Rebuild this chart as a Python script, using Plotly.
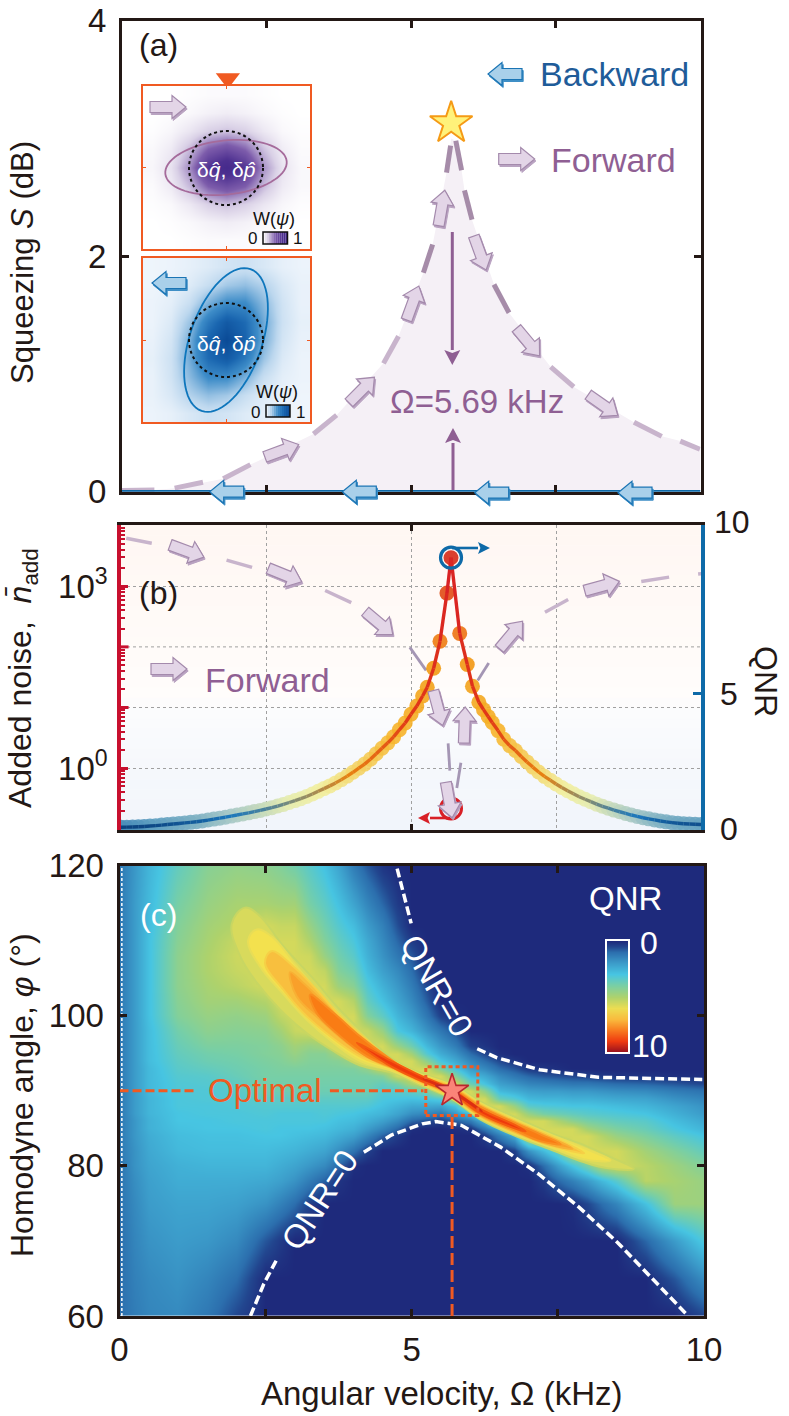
import math
import plotly.graph_objects as go

W, H = 789, 1416
FONT = "Liberation Sans"
INK = "#231815"
ORANGE = "#f05a22"
PURPLE = "#8f5f93"
BLUE = "#0e6aa8"
RED = "#c8102e"

# ---------- panel (a) data ----------
area_x = [0, .56, .91, 1.4, 1.75, 2.22, 3.31, 3.71, 4.52, 4.78, 5.21, 5.37, 5.61, 5.69, 5.77, 5.87, 5.92, 6.05, 6.43, 6.69, 7.41, 7.81, 8.85, 9.33, 9.65, 10]
area_s = [0, .014, .03, .08, .11, .23, .49, .65, 1.09, 1.32, 1.86, 2.1, 2.71, 3.0, 2.98, 2.73, 2.56, 2.31, 1.76, 1.52, 1.06, .89, .59, .47, .43, .36]
dash_hi_x = [5.68, 5.61, None, 5.37, 5.21, None, 5.77, 5.87, None, 5.92, 6.05, None, 6.43, 6.69]
dash_hi_s = [2.94, 2.71, None, 2.10, 1.86, None, 2.98, 2.73, None, 2.56, 2.31, None, 1.76, 1.52]
dash_lo_x = [4.78, 4.52, None, 3.71, 3.31, None, 2.22, 1.75, None, 1.40, .91, None, .56, 0, None, 7.41, 7.81, None, 8.85, 9.33, None, 9.65, 9.99]
dash_lo_s = [1.32, 1.09, None, .65, .49, None, .23, .11, None, .08, .03, None, .014, .01, None, 1.06, .89, None, .59, .47, None, .43, .36]
baseline_x = [0, 10]
baseline_s = [0, 0]
omega_opt = 5.69

# ---------- panel (b) data ----------
noise_out_x = [.09, .53, None, 1.82, 2.26, None, 3.52, 3.97, None, 7.31, 7.71, None, 8.97, 9.45, None, 9.95, 10.07]
noise_out_n = [6166, 5129, None, 2692, 2042, None, 851, 537, None, 372, 603, None, 1202, 1413, None, 1585, 1622]
noise_mid_x = [4.98, 5.26, None, 5.64, 5.67, None, 5.79, 5.86, None, 6.15, 6.34]
noise_mid_n = [98, 41, None, 2.57, .91, None, .47, 1.23, None, 28, 54]
grid_extra_x = [0, 10, None, 0, 10]
grid_extra_n = [10, 10, None, 100, 100]
decade_tick_x = [0, .13, None, 0, .13]
decade_tick_n = [10, 10, None, 100, 100]
qnr_x = [0, .1, .2, .3, .4, .5, .6, .7, .8, .9, 1, 1.1, 1.2, 1.3, 1.4, 1.5, 1.6, 1.7, 1.8, 1.9, 2, 2.1, 2.2, 2.3, 2.4, 2.5, 2.6, 2.7, 2.8, 2.9, 3, 3.1, 3.2, 3.3, 3.4, 3.5, 3.6, 3.7, 3.8, 3.9, 4, 4.1, 4.2, 4.3, 4.4, 4.5, 4.6, 4.7, 4.8, 4.9, 5, 5.1, 5.2, 5.28, 5.39, 5.5, 5.62, 5.69,
         5.84, 5.97, 6.06, 6.17, 6.25, 6.33, 6.4, 6.5, 6.6, 6.7, 6.8, 6.9, 7, 7.1, 7.2, 7.3, 7.4, 7.5, 7.6, 7.7, 7.8, 7.9, 8, 8.1, 8.2, 8.3, 8.4, 8.5, 8.6, 8.7, 8.8, 8.9, 9, 9.1, 9.2, 9.3, 9.4, 9.5, 9.6, 9.7, 9.8, 9.9, 10]
qnr_y = [.1, .105, .11, .12, .13, .145, .16, .18, .2, .22, .24, .26, .28, .305, .33, .365, .4, .435, .47, .51, .55, .59, .63, .675, .72, .77, .82, .88, .94, 1.01, 1.08, 1.15, 1.23, 1.32, 1.42, 1.52, 1.62, 1.73, 1.85, 1.98, 2.12, 2.27, 2.42, 2.6, 2.8, 3, 3.2, 3.42, 3.68, 3.93, 4.25, 4.55, 4.92, 5.24, 5.94, 6.93, 8.7, 10,
         7.22, 6.08, 5.28, 4.69, 4.42, 4.17, 3.95, 3.65, 3.33, 3.1, 2.92, 2.7, 2.5, 2.31, 2.13, 1.97, 1.83, 1.69, 1.56, 1.44, 1.33, 1.22, 1.13, 1.04, .95, .87, .8, .73, .67, .61, .55, .5, .45, .41, .37, .33, .3, .27, .25, .23, .22, .21, .2]
qnr_ring_top = 10
qnr_ring_bottom = .79

# ---------- panel (c) data ----------
omega_grid = [0, .25, .5, 1, 1.5, 2, 2.5, 2.75, 3, 3.25, 3.5, 3.75, 4, 4.25, 4.5, 4.75, 5, 5.25, 5.5, 5.75, 6, 6.25, 6.5, 6.75, 7, 7.25, 7.5, 7.75, 8, 8.25, 8.5, 9, 9.5, 10]
phi_grid = [60, 65, 70, 75, 78, 80, 82, 84, 85, 86, 87, 88, 89, 90, 91, 92, 93, 94, 95, 96, 98, 100, 102, 104, 106, 108, 110, 112, 115, 120]
qnr_columns = [
 [1.0,1.0,1.0,1.1,1.1,1.1,1.2,1.2,1.2,1.2,1.2,1.2,1.2,1.2,1.2,1.2,1.2,1.2,1.2,1.2,1.2,1.2,1.2,1.2,1.2,1.2,1.2,1.2,1.2,1.2],
 [1.3,1.4,1.5,1.6,1.7,1.8,1.8,1.9,1.9,1.9,2.0,2.0,2.0,2.0,2.0,2.0,2.0,2.0,2.0,2.0,2.0,2.0,2.0,2.0,2.0,2.0,2.0,2.0,2.0,1.9],
 [1.5,1.6,1.8,2.0,2.1,2.2,2.3,2.4,2.5,2.5,2.6,2.6,2.6,2.7,2.7,2.7,2.7,2.8,2.8,2.8,2.8,2.9,2.9,2.9,2.9,2.9,2.9,2.8,2.7,2.6],
 [1.6,1.8,2.0,2.2,2.4,2.5,2.7,2.8,2.9,3.0,3.0,3.1,3.1,3.2,3.2,3.3,3.4,3.5,3.6,3.7,3.9,4.2,4.3,4.4,4.4,4.4,4.3,4.2,4.0,3.6],
 [1.2,1.5,1.9,2.2,2.4,2.6,2.8,2.9,3.0,3.0,3.1,3.1,3.2,3.2,3.3,3.4,3.6,3.8,3.9,4.1,4.4,4.6,4.8,4.9,5.0,5.0,4.9,4.8,4.6,4.3],
 [0.5,1.0,1.6,2.1,2.4,2.6,2.8,2.9,3.0,3.1,3.1,3.2,3.3,3.4,3.5,3.7,3.8,3.9,4.0,4.1,4.3,4.5,4.8,5.2,5.4,5.5,5.4,5.1,4.9,4.5],
 [0,0,0.7,1.8,2.3,2.6,2.8,3.0,3.1,3.1,3.2,3.3,3.5,3.8,3.9,4,4.0,4.1,4.2,4.2,4.4,4.7,5.1,5.6,6.6,6.5,6.2,5.6,4.9,4.4],
 [0,0,.3,1.4,2.1,2.4,2.7,3,3,3.1,3.1,3.3,3.5,3.8,3.9,4,4.1,4.2,4.3,4.4,4.8,5.3,5.9,7.1,7,6.5,6,5.4,4.8,4.2],
 [0,0,0,1.0,1.8,2.2,2.6,2.9,3.0,3.1,3.1,3.3,3.5,3.8,3.9,4,4.1,4.4,4.6,4.8,5.4,6.2,7,7.5,7.2,6.5,5.9,5.4,4.8,3.9],
 [0,0,0,.4,1.3,1.9,2.4,2.8,3,3.1,3.1,3.3,3.5,3.8,3.9,4,4.1,4.2,4.3,4.6,5.6,6.9,7.8,7.1,6.2,5.5,5,4.6,4,3.4],
 [0,0,0,0,.8,1.6,2.2,2.7,2.9,3.1,3.2,3.3,3.5,3.8,3.9,4,4.1,4.2,4.3,4.8,6.2,8.0,7.7,6.3,5.3,4.6,4.2,3.9,3.5,2.9],
 [0,0,0,0,.2,.9,1.7,2.4,2.7,2.9,3.1,3.3,3.5,3.8,3.9,4,4.1,4.3,4.9,5.8,8.3,7.2,5.6,4.7,4.2,3.9,3.6,3.3,2.9,2.2],
 [0,0,0,0,0,.1,1.1,2.1,2.5,2.8,3.0,3.3,3.5,3.8,3.9,4,4.1,4.8,5.8,7.6,8.6,6.4,5.1,4.3,3.8,3.4,3.1,2.8,2.2,1.3],
 [0,0,0,0,0,0,.4,1.5,2,2.5,2.8,3.2,3.5,3.8,3.9,4,4.5,5.9,8.3,8.6,5.4,4.2,3.6,3.2,2.8,2.5,2.3,2,1.5,.7],
 [0,0,0,0,0,0,0,.8,1.5,2.1,2.6,2.9,3.1,3.3,3.6,4.2,5.6,8.2,9.1,7.2,4.6,3.5,2.9,2.5,2.1,1.8,1.6,1.4,.9,.2],
 [0,0,0,0,0,0,0,.3,.9,1.6,2.2,2.6,3,3.4,4,5.6,9.2,8.8,6,4.6,3.1,2.6,2.2,1.9,1.6,1.2,.9,.6,.3,0],
 [0,0,0,0,0,0,0,0,.1,.9,1.7,2.3,2.9,3.6,5,8.5,9.5,7.2,4.8,3.8,2.6,2,1.6,1.3,1,.7,.3,0,0,0],
 [0,0,0,0,0,0,0,0,0,.6,1.5,2.3,3,4,7.6,9.7,7,4.4,3.3,2.7,1.8,1.2,.8,.5,.2,0,0,0,0,0],
 [0,0,0,0,0,0,0,0,0,.3,1.2,2.2,3.3,7,9.8,7,4.2,3,2.4,1.9,1.2,.4,0,0,0,0,0,0,0,0],
 [0,0,0,0,0,0,0,0,.1,.8,1.9,3,5.5,9.9,7.5,4.2,3,2.3,1.8,1.3,.6,.1,0,0,0,0,0,0,0,0],
 [0,0,0,0,0,0,0,0,.2,1.3,2.7,6,9.8,7,3.8,2.7,2,1.5,1,.4,0,0,0,0,0,0,0,0,0,0],
 [0,0,0,0,0,0,0,.3,1.2,2.6,5,9.5,8,4.4,3,2.3,1.6,1,.5,.2,0,0,0,0,0,0,0,0,0,0],
 [0,0,0,0,0,0,0,1.3,2.4,6.8,9.2,6,3.7,2.7,2.1,1.6,1,.5,.1,0,0,0,0,0,0,0,0,0,0,0],
 [0,0,0,0,0,0,.4,2.4,4,9.1,8,4.6,3.3,2.4,1.8,1.2,.7,.2,0,0,0,0,0,0,0,0,0,0,0,0],
 [0,0,0,0,0,.1,1.8,5.8,9,7.2,4.6,3.4,2.7,2.1,1.5,.9,.3,0,0,0,0,0,0,0,0,0,0,0,0,0],
 [0,0,0,0,.3,1,2.8,8.3,8.6,5.6,4,3.2,2.6,2,1.4,.7,.2,0,0,0,0,0,0,0,0,0,0,0,0,0],
 [0,0,0,0,.9,2,3.8,8.2,7,5,3.8,3.1,2.6,2,1.3,.6,.1,0,0,0,0,0,0,0,0,0,0,0,0,0],
 [0,0,0,.1,1.4,3,6.9,7,5.8,4.4,3.6,3,2.5,1.9,1.2,.5,0,0,0,0,0,0,0,0,0,0,0,0,0,0],
 [0,0,0,.5,2,4,6.8,5.6,4.8,4,3.4,3,2.5,1.9,1.2,.4,0,0,0,0,0,0,0,0,0,0,0,0,0,0],
 [0,0,0,1,2.7,5.2,6.4,5.1,4.4,3.8,3.3,2.9,2.4,1.8,1.1,.3,0,0,0,0,0,0,0,0,0,0,0,0,0,0],
 [0,0,0,1.5,3.4,5.6,5.6,4.6,4.1,3.6,3.2,2.8,2.3,1.7,1,.2,0,0,0,0,0,0,0,0,0,0,0,0,0,0],
 [0,0,.9,2.9,5.2,5.2,4.8,4.1,3.7,3.4,3,2.6,2.2,1.6,.9,.2,0,0,0,0,0,0,0,0,0,0,0,0,0,0],
 [0,.7,2,4.7,4.9,4.7,4.2,3.5,3.1,2.8,2.5,2.2,1.8,1.3,.7,.1,0,0,0,0,0,0,0,0,0,0,0,0,0,0],
 [.5,1.7,3.2,4.7,4.6,4.2,3.6,3,2.6,2.3,2,1.8,1.5,1.1,.5,.1,0,0,0,0,0,0,0,0,0,0,0,0,0,0],
]
# QNR iso-level outlines (upper edge left to right, lower edge back)
iso60_x = [1.92, 2.147, 2.4, 2.8, 3.32, 3.77, 4.23, 4.68, 5.08, 5.69, 6.17, 6.8, 7.37, 7.94, 8.34, 8.8, 8.34, 7.94, 7.37, 6.8, 6.17, 5.69, 5.08, 4.68, 4.11, 3.66, 3.2, 2.75, 2.35, 2.06]
iso60_phi = [112.2, 114.4, 113.3, 109.3, 104.9, 100.8, 97.3, 94.2, 92.6, 90.9, 88.6, 86.4, 84.4, 82.8, 81.4, 79.6, 79.7, 80.5, 82.2, 83.9, 86.2, 88.9, 91, 92.4, 93.4, 95.3, 97.7, 100.8, 104.4, 108]
iso65_x = [2.2, 2.35, 2.63, 3.03, 3.43, 3.89, 4.34, 4.68, 5.08, 5.69, 6.17, 6.8, 7.37, 7.94, 8.4, 7.94, 7.37, 6.8, 6.17, 5.69, 5.08, 4.68, 4.11, 3.66, 3.2, 2.8, 2.4]
iso65_phi = [110, 111.5, 110.4, 106.6, 102.9, 99.1, 95.8, 94, 92.4, 90.75, 88.4, 86.1, 84.2, 82.4, 80.7, 80.9, 82.5, 84.1, 86.4, 89, 91.2, 92.6, 94, 96.4, 99.5, 102.9, 106.6]
iso70_x = [2.49, 2.6, 2.97, 3.37, 3.77, 4.23, 4.68, 5.08, 5.69, 6.17, 6.8, 7.37, 7.8, 7.95, 7.37, 6.8, 6.17, 5.69, 5.08, 4.68, 4.11, 3.6, 3.14, 2.8]
iso70_phi = [107, 108.6, 106.6, 103.5, 100, 96.8, 93.8, 92.2, 90.6, 88.2, 85.9, 84, 82.4, 81.7, 82.7, 84.3, 86.6, 89.2, 91.3, 92.9, 94.6, 97.3, 100.4, 103.5]
iso75_x = [2.92, 3.14, 3.49, 3.94, 4.4, 4.68, 5.08, 5.69, 6.17, 6.8, 7.37, 7.75, 7.37, 6.8, 6.17, 5.69, 5.08, 4.68, 4.34, 3.89, 3.43, 3.03]
iso75_phi = [105.8, 104.4, 101.8, 98.2, 95.1, 93.7, 92.1, 90.45, 88.05, 85.75, 83.8, 82.3, 82.8, 84.45, 86.7, 89.35, 91.5, 93, 94.1, 96.4, 99.5, 102.6]
iso80_x = [3.26, 3.66, 4.11, 4.57, 5.08, 5.69, 6.17, 6.8, 7.2, 7.55, 7.2, 6.8, 6.17, 5.69, 5.08, 4.68, 4.23, 3.77, 3.37]
iso80_phi = [102.8, 100.4, 97.3, 94.6, 92, 90.3, 87.9, 85.6, 84.2, 82.9, 83.3, 84.6, 86.85, 89.5, 91.6, 93.1, 94.6, 97.3, 100.4]
iso90_x = [4.06, 4.57, 5.08, 5.69, 6.17, 6.8, 6.95, 6.8, 6.17, 5.69, 5.08, 4.57]
iso90_phi = [96.4, 94.3, 92.3, 90.15, 87.6, 85.3, 84.6, 84.9, 87, 89.65, 91.6, 93.6]
iso97_x = [5.2, 5.69, 6.2, 5.69]
iso97_phi = [91.6, 90, 87.3, 89.8]
qnr_zero_up_x = [4.75, 4.99, None, 6.12, 6.46, 7.19, 8.19, 9.97]
qnr_zero_up_phi = [119.6, 112.3, None, 95.6, 94.4, 92.8, 91.8, 91.5]
qnr_zero_lo_x = [2.24, 2.47, 2.71, None, 4.18, 4.65, 5.18, 5.41, 5.85, 6.52, 7.19, 7.86, 8.52, 9.19, 9.73]
qnr_zero_lo_phi = [60, 64.3, 67.8, None, 81.8, 84.1, 85.6, 85.9, 85.4, 82.5, 78.8, 74.5, 69.8, 64.3, 60]
edge_x = [.04, .04]
edge_phi = [60, 120]
opt_h_x = [0, 1.3, None, 3.6, 5.2]
opt_h_phi = [90, 90, None, 90, 90]
opt_v_x = [5.69, 5.69]
opt_v_phi = [86.5, 60]
box_x = [5.24, 6.13, 6.13, 5.24, 5.24]
box_phi = [86.7, 86.7, 93.2, 93.2, 86.7]
phi_opt = 90
bar_levels = [0, 1, 2, 3, 4, 5, 6, 7, 8, 9, 10]

QNR_SCALE = [[0, "#1e2a7c"], [.05, "#22468f"], [.1, "#2c6fae"], [.2, "#3c9cca"], [.3, "#47c5e2"], [.4, "#78cfa6"],
             [.5, "#aed26c"], [.6, "#ecdd52"], [.7, "#f9bb3d"], [.8, "#f87a1f"], [.9, "#ee3a10"], [1, "#96101f"]]

# ---------- inset data ----------
wigner_forward = [
 [0,0,.01,.02,.02,.02,.01,0,0],
 [0,.01,.03,.06,.08,.06,.03,.01,0],
 [.01,.04,.11,.20,.24,.20,.10,.03,.01],
 [.03,.09,.26,.50,.60,.48,.24,.08,.02],
 [.04,.13,.38,.78,.95,.76,.36,.12,.03],
 [.02,.09,.26,.50,.60,.50,.26,.09,.03],
 [.01,.03,.10,.20,.25,.20,.11,.04,.01],
 [0,.01,.03,.06,.08,.06,.03,.01,0],
 [0,0,.01,.02,.02,.02,.01,0,0],
]
wigner_backward = [
 [.02,.03,.05,.08,.12,.14,.10,.05,.03],
 [.02,.04,.08,.16,.26,.30,.22,.10,.04],
 [.03,.06,.16,.36,.52,.52,.32,.13,.04],
 [.03,.09,.28,.62,.86,.72,.38,.14,.05],
 [.04,.12,.36,.78,1.0,.78,.36,.12,.04],
 [.05,.14,.38,.72,.86,.62,.28,.09,.03],
 [.04,.13,.32,.52,.52,.36,.16,.06,.03],
 [.04,.10,.22,.30,.26,.16,.08,.04,.02],
 [.03,.05,.10,.14,.12,.08,.05,.03,.02],
]
PURPLE_SCALE = [[0, "#ffffff"], [.2, "#d9d0e6"], [.5, "#7d5cab"], [.8, "#4d3090"], [1, "#43288a"]]
BLUE_SCALE = [[0, "#f4f8fd"], [.2, "#bcd7ee"], [.5, "#3d8cc8"], [.75, "#1a66b0"], [1, "#0a4a96"]]

# ---------- helpers ----------
def fx(p): return p / W
def fy(p): return 1 - p / H
def dom_x(a, b): return [fx(a), fx(b)]
def dom_y(top, bottom): return [fy(bottom), fy(top)]

def hex_rgb(c): return tuple(int(c[i:i + 2], 16) for i in (1, 3, 5))
def mix(stops, v):
    v = max(stops[0][0], min(stops[-1][0], v))
    for (a, ca), (b, cb) in zip(stops, stops[1:]):
        if v <= b:
            t = (v - a) / (b - a)
            ra, rb = hex_rgb(ca), hex_rgb(cb)
            return "rgb(%d,%d,%d)" % tuple(ra[i] + (rb[i] - ra[i]) * t for i in range(3))
    return stops[-1][1]

shapes, annos = [], []

def txt(x, y, s, size=33, color=INK, angle=0, anchor="center", family=FONT):
    annos.append(dict(x=fx(x), y=fy(y), xref="paper", yref="paper", text=s, showarrow=False, xanchor=anchor, yanchor="middle",
                      textangle=angle, font=dict(family=family, size=size, color=color)))

def poly_path(pts):
    return "M " + " L ".join(f"{fx(a):.5f},{fy(b):.5f}" for a, b in pts) + " Z"

def block_arrow(cx, cy, deg, kind="p", L=36, hw=5.5, HW=11.5, HL=14):
    fill, edge, shade = ("#e3d5e7", "#a48aac", "#b9a2c1") if kind == "p" else ("#a9d0ea", "#1a74b4", "#3f8fc6")
    t = math.radians(deg)
    local = [(-L/2, -hw), (L/2 - HL, -hw), (L/2 - HL, -HW), (L/2, 0), (L/2 - HL, HW), (L/2 - HL, hw), (-L/2, hw)]
    pts = [(cx + u * math.cos(t) - v * math.sin(t), cy + u * math.sin(t) + v * math.cos(t)) for u, v in local]
    shapes.append(dict(type="path", xref="paper", yref="paper", path=poly_path([(a + 1.2, b + 2) for a, b in pts]),
                       fillcolor=shade, line=dict(color=shade, width=1), layer="above"))
    shapes.append(dict(type="path", xref="paper", yref="paper", path=poly_path(pts), fillcolor=fill,
                       line=dict(color=edge, width=1.2), layer="above"))

def ellipse(cx, cy, a, b, deg, color, width=1.8):
    t = math.radians(deg)
    pts = []
    for i in range(72):
        s = 2 * math.pi * i / 72
        u, v = a * math.cos(s), b * math.sin(s)
        pts.append((cx + u * math.cos(t) - v * math.sin(t), cy + u * math.sin(t) + v * math.cos(t)))
    shapes.append(dict(type="path", xref="paper", yref="paper", path=poly_path(pts), line=dict(color=color, width=width),
                       fillcolor="rgba(0,0,0,0)", layer="above"))

def ring(cx, cy, r):
    shapes.append(dict(type="circle", xref="paper", yref="paper", x0=fx(cx - r), x1=fx(cx + r), y0=fy(cy + r), y1=fy(cy - r),
                       line=dict(color="#111111", width=2, dash="dot"), layer="above"))

def gradient_bar(x0, x1, y0, y1, scale):
    n = 12
    for i in range(n):
        a = x0 + (x1 - x0) * i / n
        b = x0 + (x1 - x0) * (i + 1) / n
        shapes.append(dict(type="rect", xref="paper", yref="paper", x0=fx(a), x1=fx(b), y0=fy(y1), y1=fy(y0),
                           fillcolor=mix(scale, (i + .5) / n), line=dict(width=0), layer="above"))
    shapes.append(dict(type="rect", xref="paper", yref="paper", x0=fx(x0), x1=fx(x1), y0=fy(y1), y1=fy(y0),
                       line=dict(color="#111111", width=1.5), layer="above"))

def arrow(x0, y0, x1, y1, color, width=3, head=(15, 8)):
    d = math.hypot(x1 - x0, y1 - y0)
    ux, uy = (x1 - x0) / d, (y1 - y0) / d
    hl, hw = head
    bx, by = x1 - ux * hl, y1 - uy * hl
    shapes.append(dict(type="line", xref="paper", yref="paper", x0=fx(x0), y0=fy(y0), x1=fx(bx), y1=fy(by), line=dict(color=color, width=width), layer="above"))
    tri = [(x1, y1), (bx - uy * hw, by + ux * hw), (x1 - ux * hl * .8, y1 - uy * hl * .8), (bx + uy * hw, by - ux * hw)]
    shapes.append(dict(type="path", xref="paper", yref="paper", path=poly_path(tri), fillcolor=color, line=dict(width=0), layer="above"))

fig = go.Figure()

# ---------- panel (a) ----------
fig.add_trace(go.Scatter(x=area_x, y=area_s, mode="lines", line=dict(width=0), fill="tozeroy", fillcolor="#f5f0f6", xaxis="x", yaxis="y", hoverinfo="skip"))
fig.add_trace(go.Scatter(x=dash_lo_x, y=dash_lo_s, mode="lines", line=dict(color="#c8b4cc", width=5), xaxis="x", yaxis="y"))
fig.add_trace(go.Scatter(x=dash_hi_x, y=dash_hi_s, mode="lines", line=dict(color="#a68ca9", width=5), xaxis="x", yaxis="y"))
fig.add_trace(go.Scatter(x=baseline_x, y=baseline_s, mode="lines", line=dict(color=BLUE, width=3.5), cliponaxis=False, xaxis="x", yaxis="y"))
fig.add_trace(go.Scatter(x=[omega_opt], y=[3.13], mode="markers", marker=dict(symbol="star", size=32, color="#fff27a", line=dict(color="#f59a16", width=2)), xaxis="x", yaxis="y"))
fig.add_trace(go.Scatter(x=[omega_opt], y=[-.115], mode="markers", marker=dict(symbol="triangle-up", size=21, color=ORANGE), cliponaxis=False, xaxis="x", yaxis="y"))
fig.add_trace(go.Scatter(x=[1.83], y=[3.51], mode="markers", marker=dict(symbol="triangle-down", size=21, color=ORANGE), cliponaxis=False, xaxis="x", yaxis="y"))

for cx, cy, d in [(281.7, 450.7, -20), (361.7, 390, -45), (412.7, 303, -70), (441.7, 208, -80), (480, 253, 70), (528, 342, 50), (603, 405, 35), (516.7, 159, 0), (168, 107, 0)]:
    block_arrow(cx, cy, d)
for cx, cy in [(226.7, 491.7), (359.3, 491.7), (491.7, 492.7), (635, 492.7), (505, 74), (169, 283)]:
    block_arrow(cx, cy, 180, "b", L=34)

arrow(452.3, 232, 452.3, 365, PURPLE)
arrow(453, 490, 453, 428, PURPLE)
txt(158, 45, "(a)", 32)
txt(614, 74, "Backward", 34, "#1f5c99")
txt(613, 160, "Forward", 34, PURPLE)
txt(477, 401, "Ω=5.69 kHz", 33, PURPLE)
txt(22, 263, "Squeezing <i>S</i> (dB)", 31, angle=-90)

# insets
fig.add_trace(go.Heatmap(z=wigner_forward, zsmooth="best", colorscale=PURPLE_SCALE, zmin=0, zmax=1, showscale=False, xaxis="x5", yaxis="y5", hoverinfo="skip"))
fig.add_trace(go.Heatmap(z=wigner_backward, zsmooth="best", colorscale=BLUE_SCALE, zmin=0, zmax=1, showscale=False, xaxis="x6", yaxis="y6", hoverinfo="skip"))
ellipse(226, 167.5, 61, 27, -6, "#a56b9b")
ellipse(226, 340, 75, 36, -71, "#0e76bc")
ring(226, 168, 37)
ring(226, 340, 37)
for cy in (170, 343):
    txt(226, cy, "δ<i>q̂</i>, δ<i>p̂</i>", 21, "#ffffff")
txt(274, 219, "W(<i>ψ</i>)", 18, "#111111")
txt(277, 392, "W(<i>ψ</i>)", 18, "#111111")
gradient_bar(263, 287.5, 232, 244, PURPLE_SCALE)
gradient_bar(266, 290, 405, 417, BLUE_SCALE)
txt(252, 239, "0", 17, "#111111")
txt(297, 239, "1", 17, "#111111")
txt(255, 412, "0", 17, "#111111")
txt(300, 412, "1", 17, "#111111")

# ---------- panel (b) ----------
band_stops = [[0, "#fff7f3"], [.55, "#fffdfb"], [.62, "#fbfcfe"], [1, "#f1f5fb"]]
for i in range(30):
    a, b = 525 + 305 * i / 30, 525 + 305 * (i + 1) / 30
    shapes.append(dict(type="rect", xref="paper", yref="paper", x0=fx(121), x1=fx(701), y0=fy(b + .5), y1=fy(a), fillcolor=mix(band_stops, (i + .5) / 30), line=dict(width=0), layer="below"))

fig.add_trace(go.Scatter(x=grid_extra_x, y=grid_extra_n, mode="lines", line=dict(color="#a0a0a0", width=1, dash="dot"), xaxis="x2", yaxis="y2", hoverinfo="skip"))
fig.add_trace(go.Scatter(x=decade_tick_x, y=decade_tick_n, mode="lines", line=dict(color=RED, width=3), xaxis="x2", yaxis="y2", hoverinfo="skip"))
fig.add_trace(go.Scatter(x=noise_out_x, y=noise_out_n, mode="lines", line=dict(color="#c8b4cc", width=3.5), cliponaxis=False, xaxis="x2", yaxis="y2"))
fig.add_trace(go.Scatter(x=noise_mid_x, y=noise_mid_n, mode="lines", line=dict(color="#a496b4", width=2.8), xaxis="x2", yaxis="y2"))

DOT_SCALE = [[0, "#1f6aa8"], [.015, "#5c9dc0"], [.05, "#a5c7c6"], [.1, "#e6ecb0"], [.15, "#f2ee9f"], [.22, "#f4d56a"], [.35, "#f6b52c"], [.6, "#f29a12"], [.75, "#ec6a12"], [1, "#d62a18"]]
LINE_STOPS = [[0, "#08356f"], [.05, "#1c78bd"], [.11, "#8a8f70"], [.2, "#e88212"], [.4, "#e23a18"], [1, "#d81f26"]]
fig.add_trace(go.Scatter(x=qnr_x, y=qnr_y, mode="markers", marker=dict(size=15, color=qnr_y, cmin=0, cmax=10, colorscale=DOT_SCALE, opacity=.9, line=dict(width=0)), xaxis="x2", yaxis="y4"))
for i in range(len(qnr_x) - 1):
    fig.add_trace(go.Scatter(x=qnr_x[i:i + 2], y=qnr_y[i:i + 2], mode="lines", line=dict(width=3.4, color=mix(LINE_STOPS, (qnr_y[i] + qnr_y[i + 1]) / 20)), xaxis="x2", yaxis="y4", hoverinfo="skip"))
fig.add_trace(go.Scatter(x=[omega_opt], y=[qnr_ring_top], mode="markers", marker=dict(size=21, color="rgba(0,0,0,0)", line=dict(color=BLUE, width=3.2)), xaxis="x2", yaxis="y4"))
fig.add_trace(go.Scatter(x=[omega_opt], y=[qnr_ring_bottom], mode="markers", marker=dict(size=21, color="rgba(0,0,0,0)", line=dict(color="#d81f26", width=3)), xaxis="x2", yaxis="y4"))
arrow(452, 548, 490, 548, BLUE, 2.6, (12, 6))
arrow(452, 818, 418, 818, "#d81f26", 2.6, (12, 6))

for cx, cy, d in [(187, 551, 20), (285, 575, 22), (379, 623, 40), (438, 708, 75), (449, 800, 80), (464.5, 725, -88), (511, 635, -50), (602, 586, -15), (169, 669, 0)]:
    block_arrow(cx, cy, d)
txt(158, 593, "(b)", 32)
txt(267, 680, "Forward", 34, PURPLE)
txt(22, 678, "Added noise,  <i>n̄</i><sub>add</sub>", 32, angle=-90)
txt(766, 681, "QNR", 32, angle=90)
txt(732, 522, "10", 32)
txt(729, 694, "5", 32)
txt(729, 829, "0", 32)

# ---------- panel (c) ----------
QNR_CEIL = 5.6  # levels above this are drawn from the iso outlines
qnr_rows = [[min(v, QNR_CEIL) for v in r] for r in zip(*qnr_columns)]
fig.add_trace(go.Heatmap(x=omega_grid, y=phi_grid, z=qnr_rows, zsmooth="best", zmin=0, zmax=10, colorscale=QNR_SCALE, showscale=False, xaxis="x3", yaxis="y3", hoverinfo="skip"))
for xs, ys, fc, lc in [(iso60_x, iso60_phi, "#d8da5c", "#c8d662"),
                       (iso65_x, iso65_phi, "#f3e14e", "#e8dd56"), (iso70_x, iso70_phi, "#f8bf3e", "#f6d046"), (iso75_x, iso75_phi, "#f9a02a", "#f8b034"),
                       (iso80_x, iso80_phi, "#f97c14", "#f98e20"), (iso90_x, iso90_phi, "#ee3a0c", "#f45a10"), (iso97_x, iso97_phi, "#c9241a", "#dc2e12")]:
    fig.add_trace(go.Scatter(x=xs + xs[:1], y=ys + ys[:1], mode="lines", fill="toself", fillcolor=fc, line=dict(color=lc, width=2, shape="spline", smoothing=1.1), xaxis="x3", yaxis="y3", hoverinfo="skip"))
for xs, ys in [(qnr_zero_up_x, qnr_zero_up_phi), (qnr_zero_lo_x, qnr_zero_lo_phi)]:
    fig.add_trace(go.Scatter(x=xs, y=ys, mode="lines", line=dict(color="#ffffff", width=3.5, dash="9px,4px"), xaxis="x3", yaxis="y3"))
fig.add_trace(go.Scatter(x=edge_x, y=edge_phi, mode="lines", line=dict(color="#ffffff", width=1.5, dash="3px,2px"), xaxis="x3", yaxis="y3"))
fig.add_trace(go.Scatter(x=opt_h_x, y=opt_h_phi, mode="lines", line=dict(color=ORANGE, width=3, dash="9px,4px"), xaxis="x3", yaxis="y3"))
fig.add_trace(go.Scatter(x=opt_v_x, y=opt_v_phi, mode="lines", line=dict(color=ORANGE, width=3, dash="12px,5px"), xaxis="x3", yaxis="y3"))
fig.add_trace(go.Scatter(x=box_x, y=box_phi, mode="lines", line=dict(color=ORANGE, width=3, dash="4px,3px"), xaxis="x3", yaxis="y3"))
fig.add_trace(go.Scatter(x=[omega_opt], y=[phi_opt], mode="markers", marker=dict(symbol="star", size=25, color="#fb8478", line=dict(color="#b8282e", width=1.6)), xaxis="x3", yaxis="y3"))
fig.add_trace(go.Heatmap(x=[0], y=bar_levels, z=[[v] for v in bar_levels], zsmooth="best", zmin=0, zmax=10, colorscale=QNR_SCALE, showscale=False, xaxis="x7", yaxis="y7", hoverinfo="skip"))

txt(158, 915, "(c)", 32, "#ffffff")
txt(625, 898, "QNR", 33, "#ffffff")
txt(649, 943, "0", 32, "#ffffff")
txt(650, 1046, "10", 32, "#ffffff")
txt(265, 1090, "Optimal", 33, ORANGE)
txt(437, 985, "QNR=0", 33, "#ffffff", angle=60)
txt(319, 1200, "QNR=0", 33, "#ffffff", angle=-57)
txt(22, 1095, "Homodyne angle, <i>φ</i> (°)", 32, angle=-90)
txt(442, 1393, "Angular velocity, Ω (kHz)", 33)

# ---------- axes ----------
frame = dict(showline=True, linecolor=INK, linewidth=3, mirror="ticks", ticks="inside", tickcolor=INK, tickwidth=3, ticklen=7, showgrid=False, zeroline=False, automargin=False)
tickfont = dict(family=FONT, size=33, color=INK)
inset = dict(showline=True, linecolor=ORANGE, linewidth=2, mirror="ticks", ticks="inside", tickcolor=ORANGE, tickwidth=1, ticklen=3, showgrid=False, zeroline=False, showticklabels=False, tickvals=[4], automargin=False)

minor_vals = [d * m for d in (.1, 1, 10, 100, 1000) for m in (2, 3, 4, 5, 6, 7, 8, 9)]

layout_axes = dict(
    xaxis=dict(domain=dom_x(122, 700.5), range=[0, 10], tickvals=[2.5, 5, 7.5], showticklabels=False, anchor="y", **frame),
    yaxis=dict(domain=dom_y(20.7, 491.7), range=[0, 4], tickvals=[0, 2, 4], tickfont=tickfont, ticklabelstandoff=6, anchor="x", **frame),
    xaxis2=dict(domain=dom_x(121, 701), range=[0, 10], tickvals=[5], showticklabels=False, anchor="y2", showline=True, linecolor=INK, linewidth=3, mirror="ticks", automargin=False,
                ticks="inside", tickcolor=INK, tickwidth=3, ticklen=6, showgrid=True, griddash="dot", gridcolor="#a0a0a0", gridwidth=1, zeroline=False,
                minor=dict(tickvals=[2.5, 7.5], showgrid=True, griddash="dot", gridcolor="#a0a0a0", gridwidth=1, ticks="")),
    yaxis2=dict(domain=dom_y(525, 830), type="log", range=[-1.02, 4.01], tickvals=[1, 1000], ticktext=["10<sup>0</sup>", "10<sup>3</sup>"], tickfont=tickfont, ticklabelstandoff=3, automargin=False,
                showline=True, linecolor=RED, linewidth=3.5, ticks="inside", tickcolor=RED, tickwidth=3, ticklen=7, anchor="x2",
                showgrid=True, griddash="dot", gridcolor="#a0a0a0", gridwidth=1, zeroline=False,
                minor=dict(tickvals=minor_vals, ticks="inside", ticklen=4, tickwidth=2, tickcolor=RED, showgrid=False)),
    yaxis4=dict(domain=dom_y(525, 830), overlaying="y2", side="right", anchor="x2", range=[0, 11.2], tickvals=[0, 5], showticklabels=False, automargin=False,
                showline=True, linecolor=BLUE, linewidth=3.5, ticks="inside", tickcolor=BLUE, tickwidth=3, ticklen=8, showgrid=False, zeroline=False),
    xaxis3=dict(domain=dom_x(119.5, 704), range=[0, 10], tickvals=[0, 5, 10], tickfont=tickfont, ticklabelstandoff=2, anchor="y3",
                minor=dict(tickvals=[2.5, 7.5], ticks="inside", ticklen=7, tickwidth=3, tickcolor=INK), **frame),
    yaxis3=dict(domain=dom_y(865.6, 1316), range=[60, 120], tickvals=[60, 80, 100, 120], tickfont=tickfont, ticklabelstandoff=6, anchor="x3", **frame),
    xaxis5=dict(domain=dom_x(143, 310), range=[-.5, 8.5], anchor="y5", **inset),
    yaxis5=dict(domain=dom_y(86, 249), range=[8.5, -.5], anchor="x5", **inset),
    xaxis6=dict(domain=dom_x(143, 310), range=[-.5, 8.5], anchor="y6", **inset),
    yaxis6=dict(domain=dom_y(258, 422), range=[8.5, -.5], anchor="x6", **inset),
    xaxis7=dict(domain=dom_x(607, 628), range=[-.5, .5], anchor="y7", showticklabels=False, ticks="", showgrid=False, zeroline=False, showline=True, linecolor="#ffffff", linewidth=2, mirror=True, automargin=False),
    yaxis7=dict(domain=dom_y(941, 1052), range=[10, 0], anchor="x7", showticklabels=False, ticks="", showgrid=False, zeroline=False, showline=True, linecolor="#ffffff", linewidth=2, mirror=True, automargin=False),
)

fig.update_layout(width=W, height=H, margin=dict(l=0, r=0, t=0, b=0, autoexpand=False), autosize=False, showlegend=False, paper_bgcolor="#ffffff", plot_bgcolor="rgba(0,0,0,0)",
                  font=dict(family=FONT, color=INK), shapes=shapes, annotations=annos, **layout_axes)
fig.write_html("out.html", config={"displayModeBar": False}, post_script="document.body.style.margin='0';")
